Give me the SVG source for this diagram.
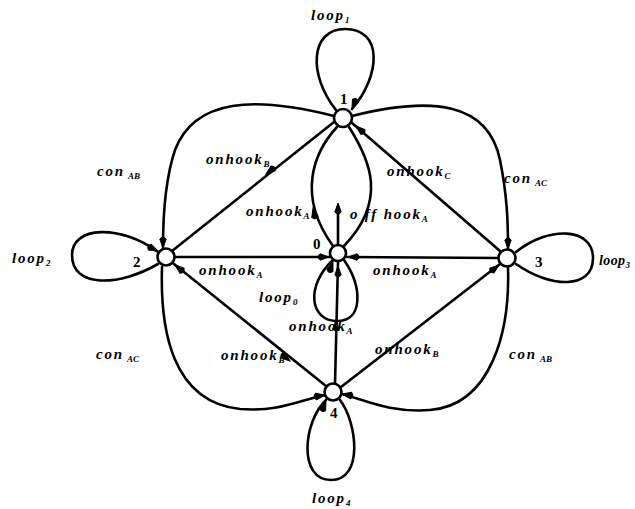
<svg xmlns="http://www.w3.org/2000/svg" xmlns:xlink="http://www.w3.org/1999/xlink" width="635" height="509" viewBox="0 0 635 509">
<style>
.e{fill:none;stroke:#000;stroke-width:2.6;stroke-linecap:round}
.n{fill:#fff;stroke:#000;stroke-width:2.6}
.t{font-family:"Liberation Serif",serif;font-style:italic;font-weight:bold;font-size:15px;letter-spacing:1.8px;fill:#000}
.s{font-size:9px;letter-spacing:0}
.nl{font-family:"Liberation Serif",serif;font-weight:bold;font-size:15px;fill:#000}
</style>
<defs>
<path id="ah" d="M0,0 L-9,-3.2 Q-13,0 -9,3.2 Z" fill="#000" stroke="#000" stroke-width="1"/>
</defs>
<rect width="635" height="509" fill="#fff"/>
<g id="connectors">
<path class="e" d="M336,110 C308,75 310,29 345,29 C383,29 381,75 352,109"/>
<path class="e" d="M158,252 C120,224 72,226 72,255 C72,289 120,286 158,264"/>
<path class="e" d="M516,252 C550,225 593,228 593,258 C593,290 550,288 516,264"/>
<path class="e" d="M333,260 C305,286 310,321 337,321 C364,321 362,286 344,260"/>
<path class="e" d="M326,400 C303,422 298,480 331,480 C364,480 357,422 340,400"/>
<path class="e" d="M334,116 C255,96 195,98 175,150 C165,180 163,215 163,247"/>
<path class="e" d="M352,116 C432,96 488,102 500,160 C507,195 508,220 508,248"/>
<path class="e" d="M162,267 C160,330 172,402 240,409 C280,412 300,400 325,395"/>
<path class="e" d="M508,268 C510,330 492,405 430,410 C390,413 365,400 342,394"/>
<line class="e" x1="172" y1="251" x2="334" y2="122"/>
<line class="e" x1="352" y1="123" x2="500" y2="251"/>
<line class="e" x1="175" y1="257" x2="330" y2="257"/>
<line class="e" x1="346" y1="257" x2="499" y2="258"/>
<line class="e" x1="174" y1="264" x2="326" y2="386"/>
<line class="e" x1="500" y1="264" x2="341" y2="387"/>
<line class="e" x1="338" y1="262" x2="335" y2="384"/>
<path class="e" d="M337,127 C314,152 296,195 333,246"/>
<path class="e" d="M349,127 C370,160 388,200 344,246"/>
<line class="e" x1="338" y1="245" x2="338" y2="210"/>
<use xlink:href="#ah" transform="translate(163,248) rotate(90)"/>
<use xlink:href="#ah" transform="translate(508,249) rotate(90)"/>
<use xlink:href="#ah" transform="translate(352,109) rotate(112)"/>
<use xlink:href="#ah" transform="translate(266,174) rotate(142)"/>
<use xlink:href="#ah" transform="translate(356,126) rotate(221)"/>
<use xlink:href="#ah" transform="translate(313,208) rotate(-102)"/>
<use xlink:href="#ah" transform="translate(338,203) rotate(-90)"/>
<use xlink:href="#ah" transform="translate(329,257) rotate(0)"/>
<use xlink:href="#ah" transform="translate(348,257) rotate(180)"/>
<use xlink:href="#ah" transform="translate(333,262) rotate(-70)"/>
<use xlink:href="#ah" transform="translate(338,266) rotate(-90)"/>
<use xlink:href="#ah" transform="translate(336,320) rotate(-90)"/>
<use xlink:href="#ah" transform="translate(175,265) rotate(219)"/>
<use xlink:href="#ah" transform="translate(158,251) rotate(25)"/>
<use xlink:href="#ah" transform="translate(499,265) rotate(-38)"/>
<use xlink:href="#ah" transform="translate(325,395) rotate(-10)"/>
<use xlink:href="#ah" transform="translate(342,394) rotate(190)"/>
<use xlink:href="#ah" transform="translate(326,401) rotate(-68)"/>
<use xlink:href="#ah" transform="translate(290,361) rotate(39)"/>
</g>
<g id="node0"><circle class="n" cx="338" cy="253" r="8"/><text class="nl" x="313" y="249">0</text></g>
<g id="node1"><circle class="n" cx="343" cy="118" r="9"/><text class="nl" x="340" y="104">1</text></g>
<g id="node2"><circle class="n" cx="166" cy="257" r="8.5"/><text class="nl" x="133" y="267">2</text></g>
<g id="node3"><circle class="n" cx="507" cy="258" r="8.5"/><text class="nl" x="535" y="267">3</text></g>
<g id="node4"><circle class="n" cx="333" cy="392" r="8.5"/><text class="nl" x="330" y="418">4</text></g>
<g id="labels">
<text class="t" x="311" y="20">loop<tspan class="s" dy="3">1</tspan></text>
<text class="t" x="97" y="176">con<tspan class="s" dx="3" dy="3">AB</tspan></text>
<text class="t" x="206" y="164">onhook<tspan class="s" dy="3">B</tspan></text>
<text class="t" x="387" y="176">onhook<tspan class="s" dy="3">C</tspan></text>
<text class="t" x="504" y="183">con<tspan class="s" dx="3" dy="3">AC</tspan></text>
<text class="t" x="12" y="263">loop<tspan class="s" dy="3">2</tspan></text>
<text class="t" x="599" y="265" style="font-size:14px;letter-spacing:0.4px">loop<tspan class="s" dy="3">3</tspan></text>
<text class="t" x="246" y="216">onhook<tspan class="s" dy="3">A</tspan></text>
<text class="t" x="350" y="219">o ff hook<tspan class="s" dy="3">A</tspan></text>
<text class="t" x="199" y="275">onhook<tspan class="s" dy="3">A</tspan></text>
<text class="t" x="373" y="275">onhook<tspan class="s" dy="3">A</tspan></text>
<text class="t" x="259" y="302">loop<tspan class="s" dy="3">0</tspan></text>
<text class="t" x="289" y="331">onhook<tspan class="s" dy="3">A</tspan></text>
<text class="t" x="96" y="359">con<tspan class="s" dx="3" dy="3">AC</tspan></text>
<text class="t" x="221" y="360">onhook<tspan class="s" dy="3">B</tspan></text>
<text class="t" x="375" y="354">onhook<tspan class="s" dy="3">B</tspan></text>
<text class="t" x="509" y="359">con<tspan class="s" dx="3" dy="3">AB</tspan></text>
<text class="t" x="312" y="503">loop<tspan class="s" dy="3">4</tspan></text>
</g>
</svg>
